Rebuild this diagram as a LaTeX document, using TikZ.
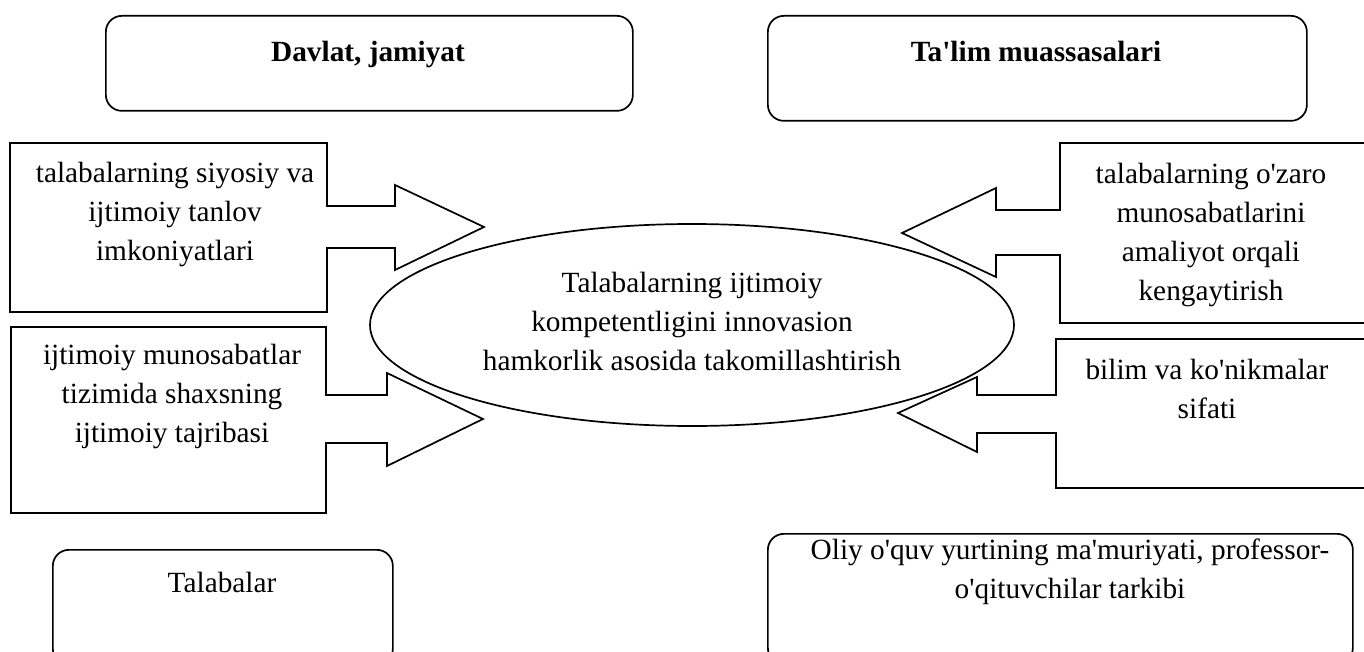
\documentclass[tikz,border=0pt]{standalone}
\usepackage{fontspec}
\setmainfont{Liberation Serif}[Ligatures=TeXOff]
\usetikzlibrary{shapes.geometric}
\newcommand\fsz{\fontsize{29.3}{39}\selectfont}
\begin{document}
\begin{tikzpicture}[x=1pt,y=-1pt,
  line width=1.7pt, line join=miter,
  rbox/.style={draw, rounded corners=16pt, inner sep=0pt, anchor=north west},
  callout/.style={draw, line join=miter},
  txt/.style={anchor=north, inner sep=0pt, align=center, font=\fsz, yshift=27.3pt,
    execute at begin node={\strut}},
  btxt/.style={txt, font=\fsz\bfseries}]
\useasboundingbox (0,0) rectangle (1364,652);
\clip (0,0) rectangle (1364,652);

% rounded boxes
\node[rbox, minimum width=527pt, minimum height=95pt] (davlat) at (105,15) {};
\node[rbox, minimum width=539pt, minimum height=105pt] (talim) at (767,15) {};
\node[rbox, minimum width=340pt, minimum height=115pt] (talabalar) at (52,549) {};
\node[rbox, minimum width=585pt, minimum height=130pt] (oliy) at (767,533) {};

\node[btxt] (tDavlat) at (368,61) {Davlat, jamiyat};
\node[btxt] (tTalim) at (1036,61) {Ta'lim muassasalari};
\node[txt] (tTalabalar) at (222,592) {Talabalar};
\node[txt] (tOliy) at (1070,565) {Oliy o'quv yurtining ma'muriyati, professor-\\o'qituvchilar tarkibi};

% arrow callouts
\draw[callout] (10,143) -- (327,143) -- (327,206) -- (395,206) -- (395,185) -- (484,227)
  -- (395,270) -- (395,248) -- (327,248) -- (327,312) -- (10,312) -- cycle;
\draw[callout] (11,327) -- (326,327) -- (326,395) -- (387,395) -- (387,373) -- (483,419)
  -- (387,466) -- (387,443) -- (326,443) -- (326,513) -- (11,513) -- cycle;
\draw[callout] (1370,143) -- (1060,143) -- (1060,210) -- (996,210) -- (996,188) -- (902,233)
  -- (996,277) -- (996,255) -- (1060,255) -- (1060,323) -- (1370,323);
\draw[callout] (1370,339) -- (1056,339) -- (1056,395) -- (977,395) -- (977,377) -- (898,413)
  -- (977,452) -- (977,433) -- (1056,433) -- (1056,488) -- (1370,488);

\node[txt] (tTL) at (175,189) {talabalarning siyosiy va\\ijtimoiy tanlov\\imkoniyatlari};
\node[txt] (tBL) at (172,371) {ijtimoiy munosabatlar\\tizimida shaxsning\\ijtimoiy tajribasi};
\node[txt] (tTR) at (1211,190) {talabalarning o'zaro\\munosabatlarini\\amaliyot orqali\\kengaytirish};
\node[txt] (tBR) at (1207,386) {bilim va ko'nikmalar\\sifati};

% central ellipse
\node[draw, ellipse, minimum width=644pt, minimum height=202pt, inner sep=0pt] (center) at (692,325) {};
\node[txt] (tCenter) at (692,299) {Talabalarning ijtimoiy\\kompetentligini innovasion\\hamkorlik asosida takomillashtirish};
\end{tikzpicture}
\end{document}
